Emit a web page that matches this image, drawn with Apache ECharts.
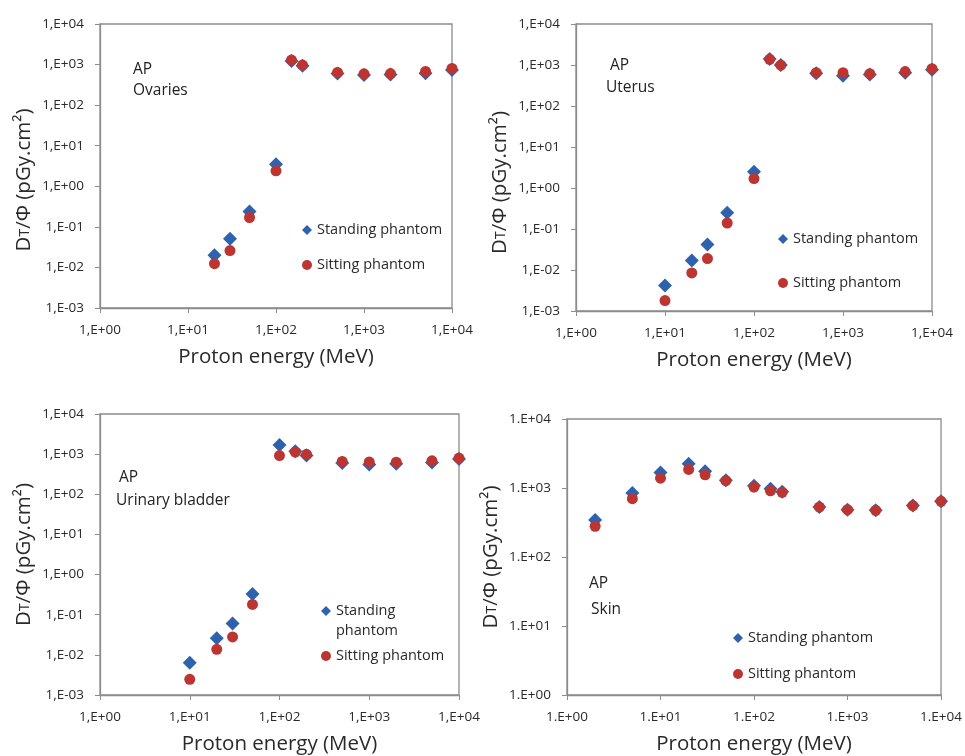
<!DOCTYPE html>
<html>
<head>
<meta charset="utf-8">
<title>Proton dose conversion coefficients, AP</title>
<script src="https://cdn.jsdelivr.net/npm/echarts@6/dist/echarts.min.js"></script>
<style>
  html, body { margin: 0; padding: 0; background: #fff; }
  #chart { width: 965px; height: 756px; }
</style>
</head>
<body>
<div id="chart"></div>
<script>
"use strict";

/* ---------- data (MeV, pGy.cm²) ---------- */
const E_OVARIES = [20, 30, 50, 100, 150, 200, 500, 1000, 2000, 5000, 10000];
const OVARIES_STANDING = [0.020, 0.051, 0.24, 3.5, 1220, 940, 605, 550, 570, 615, 740];
const OVARIES_SITTING  = [0.0124, 0.026, 0.17, 2.4, 1290, 970, 640, 590, 600, 675, 800];

const E_UTERUS = [10, 20, 30, 50, 100, 150, 200, 500, 1000, 2000, 5000, 10000];
const UTERUS_STANDING = [0.0042, 0.017, 0.042, 0.25, 2.5, 1400, 1000, 625, 550, 590, 650, 770];
const UTERUS_SITTING  = [0.0018, 0.0085, 0.019, 0.14, 1.7, 1380, 990, 650, 650, 615, 690, 810];

const E_BLADDER = [10, 20, 30, 50, 100, 150, 200, 500, 1000, 2000, 5000, 10000];
const BLADDER_STANDING = [0.0064, 0.026, 0.060, 0.33, 1690, 1180, 920, 605, 550, 580, 615, 760];
const BLADDER_SITTING  = [0.00246, 0.0137, 0.028, 0.18, 920, 1130, 990, 660, 640, 630, 680, 800];

const E_SKIN = [2, 5, 10, 20, 30, 50, 100, 150, 200, 500, 1000, 2000, 5000, 10000];
const SKIN_STANDING = [344, 845, 1680, 2240, 1750, 1300, 1080, 975, 880, 530, 485, 475, 560, 640];
const SKIN_SITTING  = [279, 700, 1390, 1855, 1550, 1275, 1030, 910, 865, 530, 485, 475, 555, 640];

const X_RANGE = [1, 10000];
const Y_RANGE_ORGAN = [0.001, 10000];
const Y_RANGE_SKIN = [1, 10000];

const SERIES_NAMES = ["Standing phantom", "Sitting phantom"];
const X_TITLE = "Proton energy (MeV)";

/* ---------- style ---------- */
const FONT = "'Open Sans', 'Noto Sans', sans-serif";
const BLUE = "#2f62ae";
const RED = "#bd3530";
const FRAME = "#8c8c8c";
const TEXT = "#2a2a2a";

// 1,E+04 (comma decimal) or 1.E+04
const sciLabel = sep => v => {
  const e = Math.round(Math.log10(v));
  return "1" + sep + "E" + (e < 0 ? "-" : "+") + String(Math.abs(e)).padStart(2, "0");
};
const zip = (xs, ys) => xs.map((x, i) => [x, ys[i]]);

const panels = [
  { grid: { left: 100, top: 24, width: 352, height: 284 }, sep: ",", yr: Y_RANGE_ORGAN,
    x: E_OVARIES, st: OVARIES_STANDING, si: OVARIES_SITTING, yShift: 28,
    note: [["AP", 133, 70], ["Ovaries", 133, 91]],
    leg: [[307, 230], [307, 265]] },
  { grid: { left: 576, top: 24, width: 356, height: 287 }, sep: ",", yr: Y_RANGE_ORGAN,
    x: E_UTERUS, st: UTERUS_STANDING, si: UTERUS_SITTING, yShift: 30,
    note: [["AP", 610, 66], ["Uterus", 606, 88]],
    leg: [[783, 239], [783, 283]] },
  { grid: { left: 100, top: 414, width: 359, height: 282 }, sep: ",", yr: Y_RANGE_ORGAN,
    x: E_BLADDER, st: BLADDER_STANDING, si: BLADDER_SITTING, yShift: 0,
    note: [["AP", 119, 478], ["Urinary bladder", 116, 501]],
    leg: [[326, 611], [326, 656]], wrap: true },
  { grid: { left: 567, top: 419, width: 376, height: 277 }, sep: ".", yr: Y_RANGE_SKIN,
    x: E_SKIN, st: SKIN_STANDING, si: SKIN_SITTING, yShift: 0,
    note: [["AP", 589, 584], ["Skin", 591, 610]],
    leg: [[738, 638], [738, 674]] }
];

const option = {
  animation: false,
  textStyle: { fontFamily: FONT },
  grid: [], xAxis: [], yAxis: [], series: [], legend: [], graphic: []
};

panels.forEach((p, i) => {
  option.grid.push(Object.assign({ show: true, borderColor: FRAME, borderWidth: 1.3 }, p.grid));
  const axisCommon = {
    type: "log", logBase: 10, gridIndex: i,
    axisLine: { show: true, lineStyle: { color: FRAME, width: 1.3 } },
    axisTick: { show: true, length: 5, lineStyle: { color: FRAME } },
    minorTick: { show: false },
    splitLine: { show: false },
    axisLabel: { formatter: sciLabel(p.sep), color: TEXT, fontSize: 13.5, fontFamily: FONT }
  };
  option.xAxis.push(Object.assign({}, axisCommon, {
    min: X_RANGE[0], max: X_RANGE[1], interval: 1,
    axisLabel: Object.assign({}, axisCommon.axisLabel, { margin: 15 }),
    name: X_TITLE, nameLocation: "middle", nameGap: 39,
    nameTextStyle: { fontSize: 20.5, color: TEXT, fontFamily: FONT }
  }));
  option.yAxis.push(Object.assign({}, axisCommon, {
    min: p.yr[0], max: p.yr[1], interval: 1,
    axisLabel: Object.assign({}, axisCommon.axisLabel, { margin: 16 }),
    name: "{a|D}{b|T}{a|/Φ (pGy.cm²)}", nameLocation: "middle", nameGap: 65,
    nameTextStyle: {
      color: TEXT, fontFamily: FONT, padding: [0, p.yShift, 0, 0],
      rich: {
        a: { fontSize: 20.5, color: TEXT, fontFamily: FONT, verticalAlign: "bottom" },
        // small-capital T sitting on the baseline of D
        b: { fontSize: 14, color: TEXT, fontFamily: FONT, verticalAlign: "bottom", padding: [0, 0, 3, 0] }
      }
    }
  }));
  option.series.push({
    name: SERIES_NAMES[0], type: "scatter", xAxisIndex: i, yAxisIndex: i,
    symbol: "diamond", symbolSize: 14, itemStyle: { color: BLUE, opacity: 1 },
    data: zip(p.x, p.st)
  });
  option.series.push({
    name: SERIES_NAMES[1], type: "scatter", xAxisIndex: i, yAxisIndex: i,
    symbol: "circle", symbolSize: 11, itemStyle: { color: RED, opacity: 1 },
    data: zip(p.x, p.si)
  });

  // one legend per entry so each sits where the figure has it
  SERIES_NAMES.forEach((nm, k) => {
    const [cx, cy] = p.leg[k];
    const twoLine = p.wrap && k === 0;
    option.legend.push({
      orient: "vertical", padding: 0, selectedMode: false,
      left: cx - 5, top: twoLine ? cy - 30 : cy - 10,
      itemWidth: 10, itemHeight: 10,
      // blank first line keeps the marker level with "Standing"
      formatter: twoLine ? " \nStanding\nphantom" : "{name}",
      textStyle: { fontSize: 14.5, color: TEXT, fontFamily: FONT, lineHeight: 20 },
      data: [{ name: nm, icon: k === 0 ? "diamond" : "circle" }]
    });
  });

  p.note.forEach(([t, x, y]) => option.graphic.push({
    type: "text", x: x, y: y,
    style: { text: t, font: "15.5px " + FONT, fill: "#222", verticalAlign: "middle" }
  }));
});

const chart = echarts.init(document.getElementById("chart"), null, { renderer: "canvas" });
chart.setOption(option);
</script>
</body>
</html>
